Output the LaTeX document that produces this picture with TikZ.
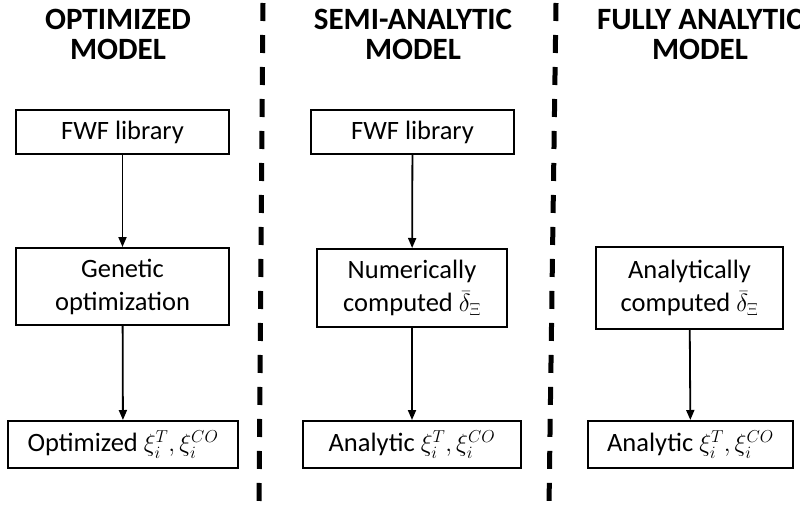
\documentclass[tikz,border=0pt]{standalone}
\usepackage{fontspec}
\setmainfont{Carlito}
\usetikzlibrary{arrows.meta}
\tikzset{
  box/.style={draw=black, line width=2pt, align=center, inner sep=0pt,
    font=\fontsize{26.5}{33}\selectfont},
  title/.style={align=center, font=\fontsize{31}{30}\selectfont\bfseries},
  flow/.style={line width=1.8pt, -{Triangle[length=10pt,width=8pt]}},
  sep/.style={line width=5pt, dash pattern=on 18pt off 14pt}
}
\begin{document}
\begin{tikzpicture}[x=1pt,y=-1pt]
\useasboundingbox (0,0) rectangle (800,506);
% titles
\node[title] (t1) at (118,34) {OPTIMIZED\\MODEL};
\node[title] (t2) at (413,34) {SEMI-ANALYTIC\\MODEL};
\node[title] (t3) at (700,34) {FULLY ANALYTIC\\MODEL};
% separators
\coordinate (s1a) at (263,3);
\coordinate (s1b) at (259,506);
\coordinate (s2a) at (556,3);
\coordinate (s2b) at (549,506);
\draw[sep] (s1a) -- (s1b);
\draw[sep] (s2a) -- (s2b);
% column 1
\node[box, minimum width=213pt, minimum height=44pt] (a1) at (122.5,132) {FWF library};
\node[box, minimum width=213pt, minimum height=77pt] (a2) at (122.5,286.5) {Genetic\\optimization};
\node[box, minimum width=230pt, minimum height=47pt] (a3) at (123,444.5) {Optimized $\xi_i^T,\xi_i^{CO}$};
% column 2
\node[box, minimum width=203pt, minimum height=44pt] (b1) at (412.5,132) {FWF library};
\node[box, minimum width=190pt, minimum height=78pt] (b2) at (412,288) {Numerically\\computed $\bar{\delta}_{\Xi}$};
\node[box, minimum width=218pt, minimum height=47pt] (b3) at (412,444.5) {Analytic $\xi_i^T,\xi_i^{CO}$};
% column 3
\node[box, minimum width=187pt, minimum height=82pt] (c2) at (689.5,288) {Analytically\\computed $\bar{\delta}_{\Xi}$};
\node[box, minimum width=205pt, minimum height=47pt] (c3) at (690.5,444.5) {Analytic $\xi_i^T,\xi_i^{CO}$};
% connectors
\draw[flow] (a1) -- (a2);
\draw[flow] (a2) -- (a3);
\draw[flow] (b1) -- (b2);
\draw[flow] (b2) -- (b3);
\draw[flow] (c2) -- (c3);
\end{tikzpicture}
\end{document}
